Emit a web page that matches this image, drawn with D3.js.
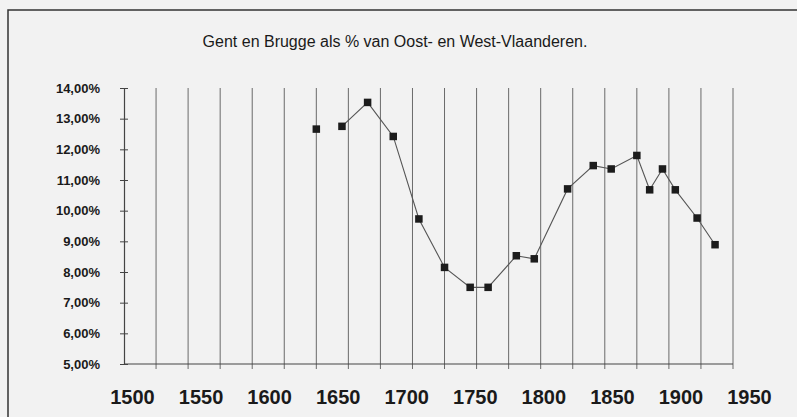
<!DOCTYPE html>
<html>
<head>
<meta charset="utf-8">
<script src="https://cdn.jsdelivr.net/npm/d3@7"></script>
<style>
  html, body { margin: 0; padding: 0; background: #f2f2f2; }
  svg { display: block; }
  text { font-family: "Liberation Sans", Arial, Helvetica, sans-serif; fill: #1a1a1a; }
</style>
</head>
<body>
<svg id="chart" width="797" height="417"></svg>
<script>
// ---- data ----
const title = "Gent en Brugge als % van Oost- en West-Vlaanderen.";
const years = [1650, 1670, 1690, 1710, 1730, 1750, 1770, 1784, 1806, 1820,
               1846, 1866, 1880, 1900, 1910, 1920, 1930, 1947, 1961];
const shares = [12.66, 12.75, 13.53, 12.42, 9.73, 8.15, 7.50, 7.50, 8.53, 8.43,
                10.71, 11.47, 11.36, 11.80, 10.68, 11.36, 10.68, 9.76, 8.89];
const lineFromIndex = 1; // first observation is not joined to the line
const yTicks = [5, 6, 7, 8, 9, 10, 11, 12, 13, 14];
const gridYears = d3.range(1500, 1976, 25);
const yearLabels = ["1500", "1550", "1600", "1650", "1700", "1750", "1800", "1850", "1900", "1950"];

// ---- layout ----
const svg = d3.select("#chart");
const x = d3.scaleLinear().domain([1500, 1975]).range([124, 733]);
const y = d3.scaleLinear().domain([5, 14]).range([364, 88]);
const labelScale = d3.scalePoint().domain(yearLabels).range([132, 749]);

// frame
svg.append("rect")
  .attr("x", 8).attr("y", 10).attr("width", 800).attr("height", 420)
  .attr("fill", "none").attr("stroke", "#333").attr("stroke-width", 1.5);

// title
svg.append("text")
  .attr("x", 395).attr("y", 47)
  .attr("text-anchor", "middle")
  .style("font-size", "16px")
  .text(title);

// vertical gridlines (extend below axis as ticks)
svg.append("g").selectAll("line")
  .data(gridYears.slice(1))
  .join("line")
  .attr("x1", d => x(d)).attr("x2", d => x(d))
  .attr("y1", y(14)).attr("y2", y(5) + 5)
  .attr("stroke", "#6a6a6a").attr("stroke-width", 1);

// y axis
const yAxis = d3.axisLeft(y).tickValues(yTicks).tickSizeInner(4).tickSizeOuter(0)
  .tickFormat(d => d3.format(".2f")(d).replace(".", ",") + "%");
const gy = svg.append("g").attr("transform", `translate(${x(1500)},0)`).call(yAxis);
gy.select(".domain").attr("stroke", "#444").attr("stroke-width", 1.2);
gy.selectAll(".tick line").attr("x2", 4).attr("x1", -4).attr("stroke", "#444");
gy.selectAll(".tick text")
  .attr("x", -24)
  .style("font-size", "13px").style("font-weight", "bold")
  .attr("fill", "#1a1a1a");

// x axis line
svg.append("line")
  .attr("x1", x(1500)).attr("x2", x(1975))
  .attr("y1", y(5)).attr("y2", y(5))
  .attr("stroke", "#444").attr("stroke-width", 1.2);

// year labels (typed row beneath the chart)
const xAxis = d3.axisBottom(labelScale).tickSize(0);
const gx = svg.append("g").attr("transform", "translate(0,390)").call(xAxis);
gx.select(".domain").remove();
gx.selectAll(".tick text")
  .attr("y", 0).attr("dy", "0.72em")
  .style("font-size", "20px").style("font-weight", "bold")
  .attr("fill", "#1a1a1a");

// line
const pts = years.map((yr, i) => ({ yr, v: shares[i] }));
const line = d3.line().x(d => x(d.yr)).y(d => y(d.v));
svg.append("path")
  .datum(pts.slice(lineFromIndex))
  .attr("d", line)
  .attr("fill", "none").attr("stroke", "#555").attr("stroke-width", 1.1);

// markers
const m = 7.5;
svg.append("g").selectAll("rect")
  .data(pts)
  .join("rect")
  .attr("x", d => x(d.yr) - m / 2).attr("y", d => y(d.v) - m / 2)
  .attr("width", m).attr("height", m)
  .attr("fill", "#1c1c1c");
</script>
</body>
</html>
